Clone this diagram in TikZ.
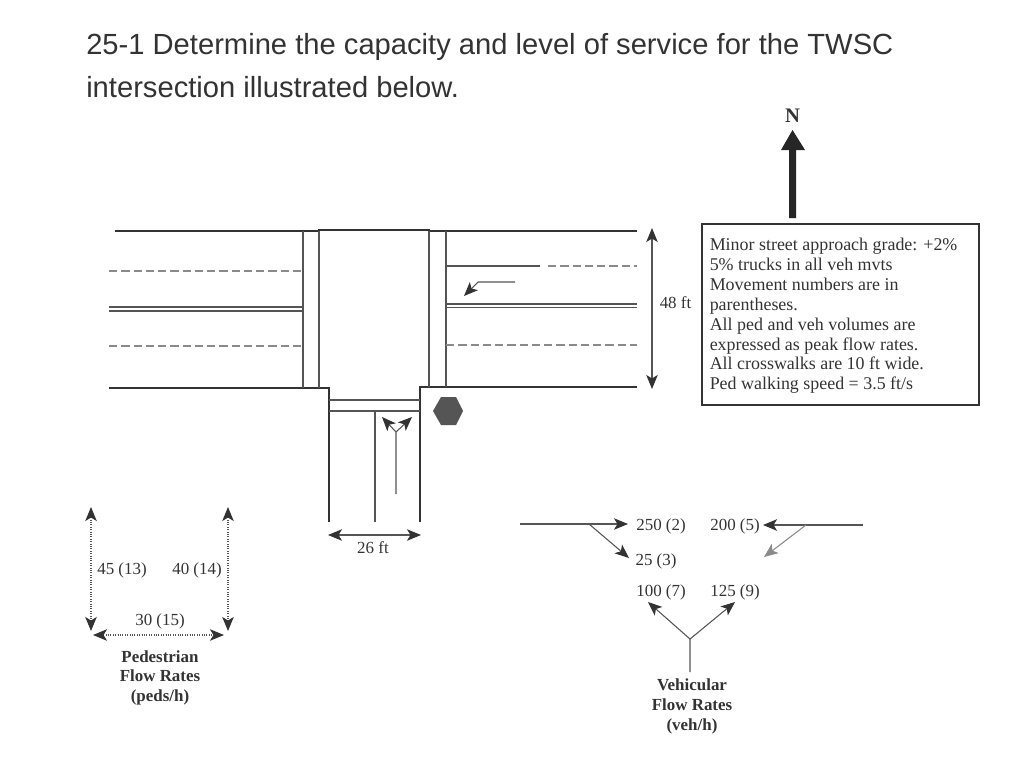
\documentclass[tikz,border=0pt]{standalone}
\usepackage{fontspec}
\setmainfont{Liberation Sans}
\newfontfamily\figfont{Liberation Serif}
\usetikzlibrary{arrows.meta}
\definecolor{inkdark}{HTML}{333333}
\definecolor{inkline}{HTML}{555555}
\definecolor{inkdash}{HTML}{8A8A8A}
\tikzset{
  flow tip/.tip={Stealth[length=10.5pt,width=8.6pt,inset=2.6pt,color=inkdark]},
  curb/.style={line width=1.4pt,draw=inkdark},
  mark line/.style={line width=0.8pt,draw=inkline},
  lane dash/.style={line width=0.9pt,draw=inkdash,dash pattern=on 6.2pt off 3pt},
  flow/.style={line width=0.8pt,draw=inkline,-{flow tip}},
  flow two/.style={line width=0.8pt,draw=inkline,{flow tip}-{flow tip}},
  ped/.style={flow two,densely dotted},
  title/.style={inner sep=0pt,anchor=base west,text=inkdark,font=\fontsize{21.87pt}{24pt}\selectfont},
  label/.style={inner sep=0pt,anchor=base,text=inkdark,font=\figfont\fontsize{12.7pt}{14pt}\selectfont},
  note/.style={inner sep=0pt,anchor=base west,text=inkdark,font=\figfont\fontsize{13.45pt}{15pt}\selectfont},
  heading/.style={inner sep=0pt,anchor=base,text=inkdark,font=\figfont\bfseries\fontsize{12.7pt}{14pt}\selectfont},
}
\begin{document}
\begin{tikzpicture}[x=0.75pt,y=-0.75pt]
  \useasboundingbox (0,0) rectangle (1024,764);

  \node [title] (line1) at (86,54) {25-1 Determine the capacity and level of service for the TWSC};
  \node [title] (line2) at (86,97) {intersection illustrated below.};

  % road edges
  \draw [curb] (115,231) -- (319,231) -- (319,230) -- (429,230) -- (429,231) -- (637,231);
  \draw [curb] (109,388) -- (329,388) -- (329,522);
  \draw [curb] (420,522) -- (420,387) -- (637,387);

  % crosswalks
  \draw [mark line] (303,231) -- (303,388);
  \draw [mark line] (319,231) -- (319,388);
  \draw [mark line] (429,231) -- (429,387);
  \draw [mark line] (446,231) -- (446,387);
  \draw [mark line] (329,400) -- (420,400);
  \draw [mark line] (329,411) -- (420,411);

  % lane lines
  \draw [lane dash] (109,271) -- (303,271);
  \draw [lane dash] (109,346) -- (303,346);
  \draw [mark line] (109,307) -- (303,307);
  \draw [mark line] (109,311) -- (303,311);
  \draw [mark line] (446,266) -- (540,266);
  \draw [lane dash] (548,266) -- (637,266);
  \draw [mark line] (446,304) -- (637,304);
  \draw [mark line] (446,307.5) -- (637,307.5);
  \draw [lane dash] (446,345) -- (637,345);
  \draw [mark line] (375,411) -- (375,522);

  % lane arrows
  \coordinate (wbstart) at (515,282);
  \coordinate (wbbend) at (478,282);
  \coordinate (wbend) at (464,296);
  \draw [flow] (wbstart) -- (wbbend) -- (wbend);
  \coordinate (nbstart) at (396,494);
  \coordinate (nbfork) at (396,432);
  \coordinate (nbleft) at (382,417);
  \coordinate (nbright) at (412,417);
  \draw [flow] (nbstart) -- (nbfork) -- (nbleft);
  \draw [flow] (nbfork) -- (nbright);

  % stop sign
  \fill [inkline] (433,411) -- (441,397) -- (456,397) -- (463,411) -- (456,425) -- (441,425) -- cycle;

  % widths
  \coordinate (wtop) at (652,228);
  \coordinate (wbot) at (652,389);
  \draw [flow two] (wtop) -- (wbot);
  \node [label] (width48) at (675.5,308) {48 ft};
  \coordinate (sleft) at (328,535);
  \coordinate (sright) at (421,535);
  \draw [flow two] (sleft) -- (sright);
  \node [label] (width26) at (373,553) {26 ft};

  % north arrow and notes
  \node [heading,font=\figfont\bfseries\fontsize{15.5pt}{17pt}\selectfont] (north) at (792.5,122) {N};
  \fill [black!85] (789,218) -- (789,150) -- (781,150) -- (792.5,130) -- (805,150) -- (796,150) -- (796,218) -- cycle;
  \node [draw=inkdark,line width=0.9pt,inner sep=0pt,minimum width=207.75pt,minimum height=135.75pt] (notebox) at (840.5,314.5) {};
  \node [note] (note1) at (709.5,250) {Minor street approach grade: +2\%};
  \node [note] (note2) at (709.5,270) {5\% trucks in all veh mvts};
  \node [note] (note3) at (709.5,290) {Movement numbers are in};
  \node [note] (note4) at (709.5,310) {parentheses.};
  \node [note] (note5) at (709.5,330) {All ped and veh volumes are};
  \node [note] (note6) at (709.5,350) {expressed as peak flow rates.};
  \node [note] (note7) at (709.5,369) {All crosswalks are 10 ft wide.};
  \node [note] (note8) at (709.5,389) {Ped walking speed = 3.5 ft/s};

  % pedestrian flows
  \coordinate (pedlt) at (91,507);
  \coordinate (pedlb) at (91,631);
  \coordinate (pedrt) at (228,507);
  \coordinate (pedrb) at (228,631);
  \coordinate (pedbl) at (93,635);
  \coordinate (pedbr) at (224,635);
  \draw [ped] (pedlt) -- (pedlb);
  \draw [ped] (pedrt) -- (pedrb);
  \draw [ped] (pedbl) -- (pedbr);
  \node [label] (ped13) at (122,574) {45 (13)};
  \node [label] (ped14) at (197,574) {40 (14)};
  \node [label] (ped15) at (160,625) {30 (15)};
  \node [heading] (pedhead1) at (160,662) {Pedestrian};
  \node [heading] (pedhead2) at (160,681) {Flow Rates};
  \node [heading] (pedhead3) at (160,701) {(peds/h)};

  % vehicle flows
  \node [label] (veh2) at (661,530) {250 (2)};
  \node [label] (veh3) at (656,565) {25 (3)};
  \node [label] (veh5) at (735,530) {200 (5)};
  \node [label] (veh7) at (661,596) {100 (7)};
  \node [label] (veh9) at (735,596) {125 (9)};
  \coordinate (ebstart) at (520,524);
  \coordinate (ebfork) at (589,524);
  \coordinate (ebthru) at (628,524);
  \coordinate (ebturn) at (629,558);
  \draw [flow] (ebstart) -- (ebthru);
  \draw [flow] (ebfork) -- (ebturn);
  \coordinate (wbfar) at (863,525);
  \coordinate (wbthru) at (763,525);
  \coordinate (wbfork) at (806,525);
  \coordinate (wbturn) at (764,557);
  \draw [flow] (wbfar) -- (wbthru);
  \draw [line width=0.8pt,draw=inkdash,-{Stealth[length=10.5pt,width=8.6pt,inset=2.6pt,color=inkdash]}] (wbfork) -- (wbturn);
  \coordinate (sbstart) at (690,672);
  \coordinate (sbfork) at (690,639);
  \coordinate (sbleft) at (648,602);
  \coordinate (sbright) at (735,602);
  \draw [flow] (sbstart) -- (sbfork) -- (sbleft);
  \draw [flow] (sbfork) -- (sbright);
  \node [heading] (vehhead1) at (692,690) {Vehicular};
  \node [heading] (vehhead2) at (692,710) {Flow Rates};
  \node [heading] (vehhead3) at (692,730) {(veh/h)};
\end{tikzpicture}
\end{document}
